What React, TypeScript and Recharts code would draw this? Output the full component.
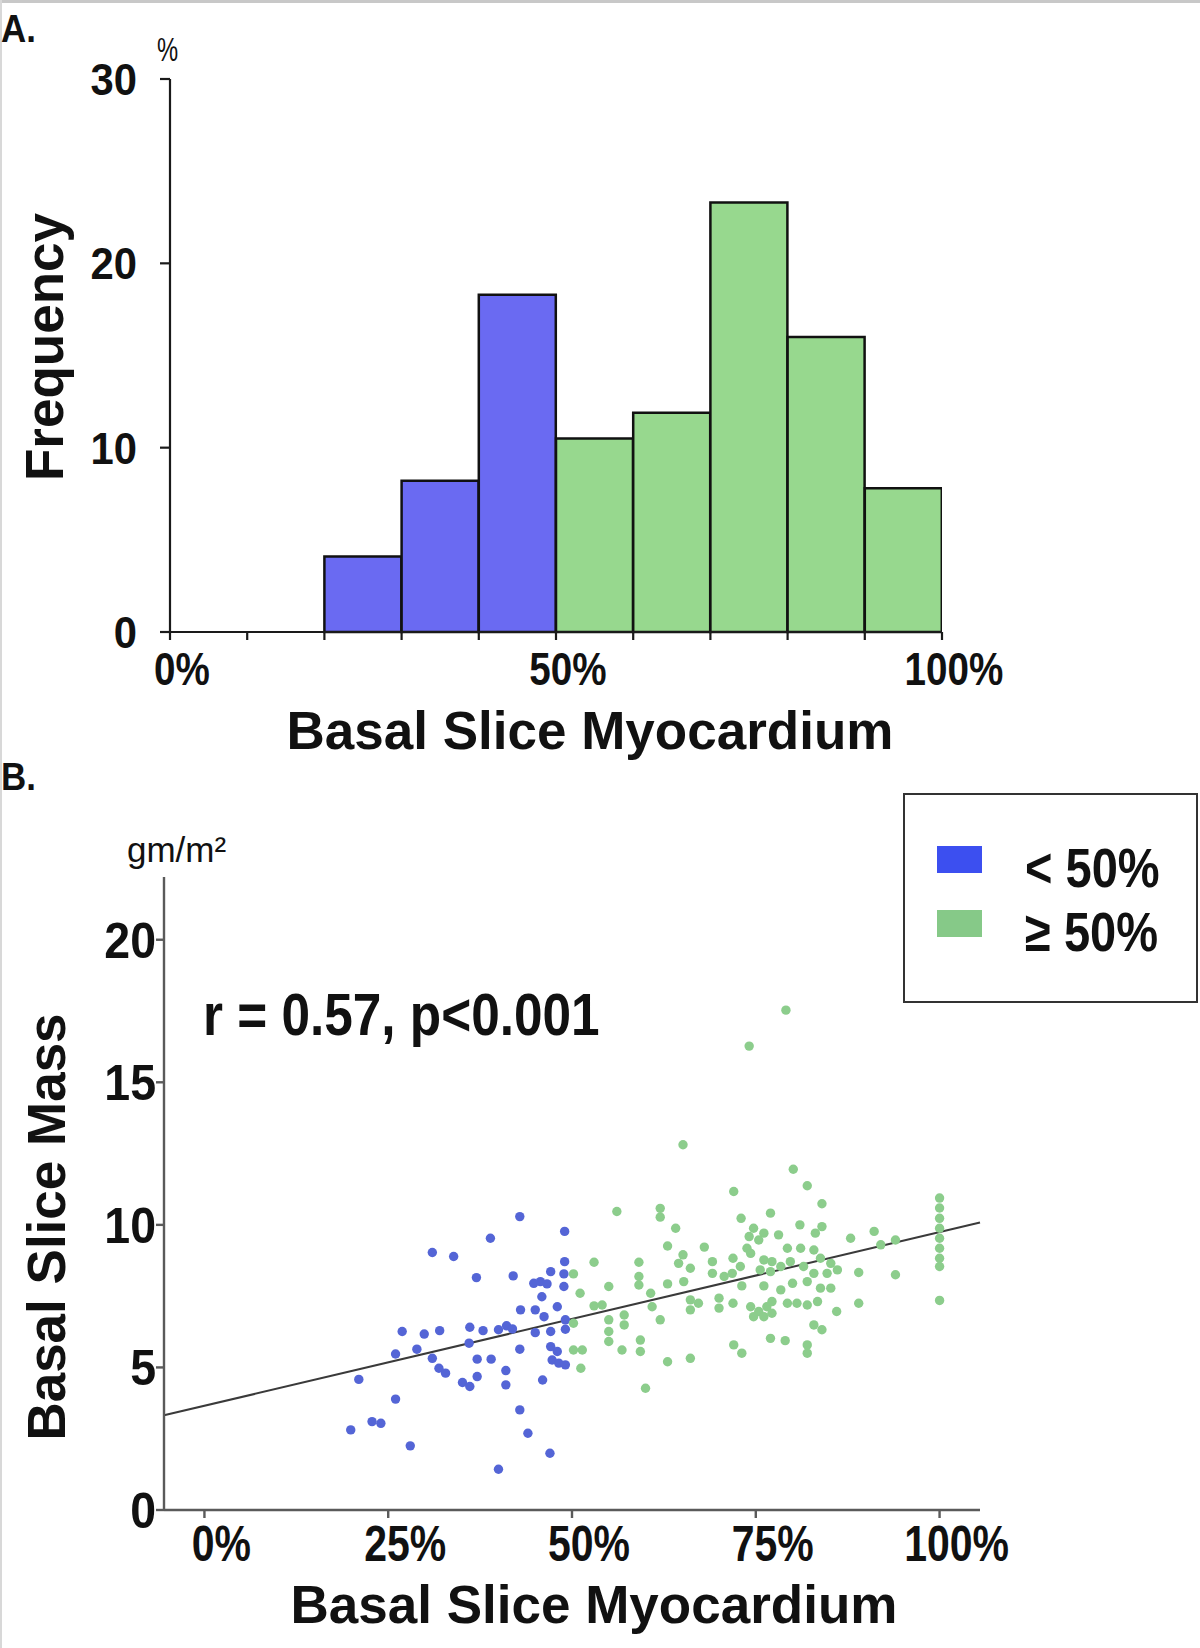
import React from 'react';
import { BarChart, Bar, Cell, XAxis, YAxis, ScatterChart, Scatter, ReferenceLine } from 'recharts';

const FONT = "'Liberation Sans', Arial, Helvetica, sans-serif";
const INK = '#111';
const HIST_BLUE = '#6a6af2';
const HIST_GREEN = '#97d88e';
const DOT_BLUE = '#5465d6';
const DOT_GREEN = '#8ccd8c';
const KEY_BLUE = '#3c4ff0';
const KEY_GREEN = '#86c988';

// panel A: histogram, % of patients per 10% bin
const binStarts = [0, 10, 20, 30, 40, 50, 60, 70, 80, 90];
const frequency = [0, 0, 4.1, 8.2, 18.3, 10.5, 11.9, 23.3, 16.0, 7.8];
const freqTicks = [0, 10, 20, 30];
const pctTicks = [0, 10, 20, 30, 40, 50, 60, 70, 80, 90, 100];
const pctLabels = [0, 50, 100];

// panel B: basal slice myocardium (%) vs basal slice mass (gm/m2)
const belowHalf: [number, number][] = [
  [42.9, 10.29], [49.0, 9.77], [38.9, 9.53], [31.0, 9.03], [33.9, 8.89], [49.0, 8.71], [37.0, 8.15],
  [42.0, 8.21], [47.1, 8.36], [45.7, 8.01], [46.6, 7.93], [44.8, 7.95], [48.9, 8.28], [48.9, 7.84],
  [45.9, 7.48], [43.0, 7.02], [45.0, 7.02], [48.0, 7.13], [46.2, 6.78], [26.9, 6.26], [29.9, 6.17],
  [32.0, 6.29], [36.1, 6.41], [37.9, 6.29], [40.0, 6.32], [41.1, 6.46], [41.9, 6.35], [45.0, 6.22],
  [47.1, 6.26], [49.1, 6.34], [49.1, 6.67], [26.0, 5.47], [28.9, 5.64], [31.0, 5.32], [36.0, 5.85],
  [42.9, 5.64], [47.1, 5.73], [48.0, 5.56], [31.9, 4.97], [32.8, 4.8], [37.1, 5.29], [39.0, 5.29],
  [41.0, 4.89], [47.3, 5.26], [48.2, 5.15], [49.1, 5.09], [21.0, 4.58], [35.1, 4.47], [36.1, 4.33],
  [37.1, 4.68], [41.0, 4.39], [46.0, 4.56], [26.0, 3.89], [22.8, 3.1], [24.0, 3.04], [19.9, 2.81],
  [42.9, 3.51], [44.0, 2.69], [28.0, 2.25], [47.0, 1.99], [40.0, 1.43],
];
const aboveHalf: [number, number][] = [
  [65.1, 12.81], [80.1, 11.95], [82.0, 11.37], [72.0, 11.17], [84.0, 10.74], [56.1, 10.47], [62.0, 10.58],
  [62.0, 10.27], [64.1, 9.88], [73.0, 10.23], [77.0, 10.41], [81.0, 10.0], [84.0, 9.94], [83.1, 9.71],
  [74.7, 9.88], [76.1, 9.71], [74.1, 9.59], [75.4, 9.47], [78.1, 9.65], [63.0, 9.26], [68.0, 9.22],
  [73.8, 9.18], [74.3, 9.0], [65.1, 8.95], [64.5, 8.65], [66.1, 8.48], [53.0, 8.69], [59.1, 8.69],
  [59.1, 8.19], [59.1, 7.89], [69.1, 8.71], [69.1, 8.3], [71.9, 8.83], [72.9, 8.54], [71.8, 8.3],
  [76.1, 8.77], [77.2, 8.71], [78.4, 8.54], [77.0, 8.36], [75.6, 8.42], [79.3, 9.18], [81.1, 9.18],
  [82.9, 9.12], [83.8, 8.83], [85.2, 8.65], [79.7, 8.71], [81.5, 8.54], [82.9, 8.3], [84.7, 8.3],
  [86.1, 8.42], [70.7, 8.19], [55.0, 7.84], [63.0, 7.93], [65.2, 8.01], [73.1, 7.86], [76.1, 7.86],
  [80.0, 7.95], [82.0, 8.01], [83.8, 7.78], [85.2, 7.78], [51.1, 7.6], [60.7, 7.6], [60.9, 7.13],
  [66.1, 7.37], [66.1, 7.02], [67.2, 7.25], [70.0, 7.43], [70.0, 7.08], [71.9, 7.25], [74.3, 7.13],
  [75.4, 6.96], [76.5, 7.13], [77.2, 7.31], [74.7, 6.78], [76.1, 6.78], [77.2, 6.9], [78.4, 7.72],
  [79.3, 7.25], [80.6, 7.25], [82.0, 7.19], [83.4, 7.31], [53.0, 7.16], [54.1, 7.19], [57.1, 6.84],
  [57.1, 6.49], [62.0, 6.67], [86.0, 6.96], [55.0, 6.67], [55.0, 6.26], [55.0, 5.91], [59.3, 5.96],
  [59.3, 5.56], [56.8, 5.61], [82.9, 6.49], [84.0, 6.32], [50.2, 5.61], [51.4, 5.61], [51.2, 4.97],
  [63.0, 5.2], [66.1, 5.32], [72.0, 5.79], [73.1, 5.5], [77.0, 6.02], [79.0, 5.94], [82.0, 5.79],
  [82.0, 5.5], [60.0, 4.27], [50.2, 8.28], [50.2, 6.55], [87.9, 9.53], [91.1, 9.77], [92.0, 9.3],
  [94.0, 9.47], [89.0, 8.33], [94.0, 8.25], [89.0, 7.25], [100, 10.94], [100, 10.59], [100, 10.23],
  [100, 9.88], [100, 9.53], [100, 9.18], [100, 8.83], [100, 8.54], [100, 7.35], [74.1, 16.27], [79.1, 17.53],
];
const fitLine: [number, number][] = [[-5.5, 3.32], [105.5, 10.08]];
const massTicks = [0, 5, 10, 15, 20];
const myoTicks = [0, 25, 50, 75, 100];
const legendItems = [
  { label: '< 50%', color: KEY_BLUE },
  { label: '\u2265 50%', color: KEY_GREEN },
];

// bars sit on a numeric axis at the middle of each 10% bin
const histData = binStarts.map((b, i) => ({ mid: b + 5, freq: frequency[i], low: b < 50 }));
const lowData = belowHalf.map(([x, y]) => ({ x, y }));
const highData = aboveHalf.map(([x, y]) => ({ x, y }));

function Narrow({ x, y, size, sx = 0.82, anchor = 'middle', weight = 700, rotate = 0, children }: any) {
  return (
    <g transform={`translate(${x},${y}) rotate(${rotate}) scale(${sx},1)`}>
      <text x={0} y={0} textAnchor={anchor} fontFamily={FONT} fontWeight={weight} fontSize={size} fill={INK}>
        {children}
      </text>
    </g>
  );
}

const HistXTick = ({ x, y, payload }: any) =>
  pctLabels.includes(payload.value) ? (
    <Narrow x={x + 12} y={y + 43} size={46} sx={0.84}>{`${payload.value}%`}</Narrow>
  ) : <g />;

const HistYTick = ({ x, y, payload }: any) => (
  <Narrow x={x - 21} y={y + 16} size={44} sx={0.95} anchor="end">{payload.value}</Narrow>
);

const ScatterXTick = ({ x, y, payload }: any) => (
  <Narrow x={x + 17} y={y + 41} size={50} sx={0.82}>{`${payload.value}%`}</Narrow>
);

const ScatterYTick = ({ x, y, payload }: any) => (
  <Narrow x={x + 2} y={y + 18} size={50} sx={0.93} anchor="end">{payload.value}</Narrow>
);

const dot = (color: string) => (p: any) => <circle cx={p.cx} cy={p.cy} r={4.7} fill={color} />;

const blackAxis = { stroke: '#1a1a1a', strokeWidth: 2.2 };
const greyAxis = { stroke: '#5a5a5a', strokeWidth: 2.4 };

export default function App() {
  return (
    <div style={{ position: 'absolute', left: 0, top: 0, width: 1200, height: 1648, background: '#fff', overflow: 'hidden' }}>
      <div style={{ position: 'absolute', left: 0, top: 0 }}>
        <BarChart width={1200} height={760} data={histData} barCategoryGap={0} barGap={0}
          margin={{ top: 79, right: 258, bottom: 68, left: 110 }}>
          <XAxis type="number" dataKey="mid" domain={[0, 100]} allowDataOverflow ticks={pctTicks} interval={0}
            tick={HistXTick} tickSize={8} height={60} axisLine={blackAxis} tickLine={blackAxis} />
          <YAxis domain={[0, 30]} ticks={freqTicks} interval={0} width={60} tickSize={10}
            tick={HistYTick} axisLine={blackAxis} tickLine={blackAxis} />
          <Bar dataKey="freq" stroke={INK} strokeWidth={2.5} isAnimationActive={false}>
            {histData.map((d) => (
              <Cell key={d.mid} fill={d.low ? HIST_BLUE : HIST_GREEN} />
            ))}
          </Bar>
        </BarChart>
      </div>

      <div style={{ position: 'absolute', left: 0, top: 780 }}>
        <ScatterChart width={1200} height={868} margin={{ top: 97, right: 220, bottom: 68, left: 104 }}>
          <XAxis type="number" dataKey="x" domain={[-5.5, 105.5]} allowDataOverflow ticks={myoTicks} interval={0}
            tick={ScatterXTick} tickSize={8} height={70} axisLine={greyAxis} tickLine={greyAxis} />
          <YAxis type="number" dataKey="y" domain={[0, 22.2]} allowDataOverflow ticks={massTicks} interval={0}
            tick={ScatterYTick} tickSize={8} width={60} axisLine={greyAxis} tickLine={greyAxis} />
          <Scatter name="< 50%" data={lowData} shape={dot(DOT_BLUE)} isAnimationActive={false} />
          <Scatter name="≥ 50%" data={highData} shape={dot(DOT_GREEN)} isAnimationActive={false} />
          <ReferenceLine
            segment={fitLine.map(([x, y]) => ({ x, y }))}
            stroke="#3a3a3a"
            strokeWidth={2}
          />
        </ScatterChart>
      </div>

      <svg width={1200} height={1648} style={{ position: 'absolute', left: 0, top: 0, pointerEvents: 'none' }}>
        <line x1={0} y1={1.5} x2={1200} y2={1.5} stroke="#c8c8c8" strokeWidth={3} />
        <line x1={1} y1={0} x2={1} y2={1648} stroke="#d8d8d8" strokeWidth={2} />

        <Narrow x={1} y={42} size={38} sx={0.92} anchor="start">A.</Narrow>
        <Narrow x={157} y={61} size={34} sx={0.7} anchor="start" weight={400}>%</Narrow>
        <Narrow x={63} y={347} size={53} sx={1} rotate={-90}>Frequency</Narrow>
        <Narrow x={590} y={749} size={53} sx={1}>Basal Slice Myocardium</Narrow>

        <Narrow x={1} y={790} size={38} sx={0.92} anchor="start">B.</Narrow>
        <Narrow x={127} y={862} size={35} sx={1} anchor="start" weight={400}>gm/m²</Narrow>
        <Narrow x={203} y={1035} size={59} sx={0.87} anchor="start">r = 0.57, p&lt;0.001</Narrow>
        <Narrow x={65} y={1227} size={53} sx={1} rotate={-90}>Basal Slice Mass</Narrow>
        <Narrow x={594} y={1623} size={53} sx={1}>Basal Slice Myocardium</Narrow>

        <rect x={904} y={794} width={293} height={208} fill="#fff" stroke="#333" strokeWidth={2} />
        {legendItems.map((item, i) => (
          <g key={item.label}>
            <rect x={937} y={846 + i * 64} width={45} height={27} fill={item.color} />
            <Narrow x={1025} y={887 + i * 64} size={56} sx={0.84} anchor="start">{item.label}</Narrow>
          </g>
        ))}
      </svg>
    </div>
  );
}
